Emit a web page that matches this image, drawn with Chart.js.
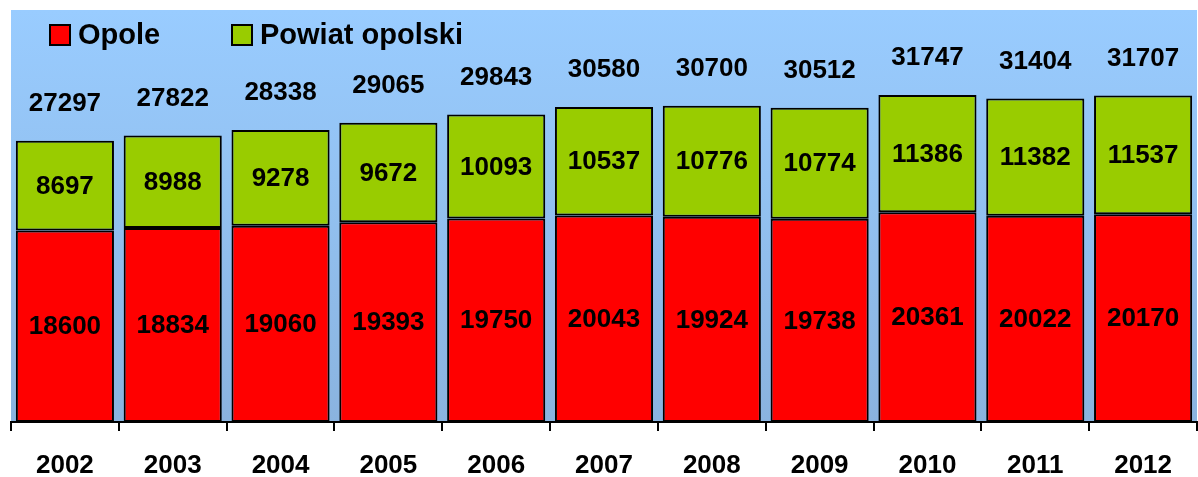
<!DOCTYPE html>
<html>
<head>
<meta charset="utf-8">
<script src="https://cdn.jsdelivr.net/npm/chart.js@4/dist/chart.umd.min.js"></script>
<style>
  html, body { margin: 0; padding: 0; background: #fff; }
  #wrap { width: 1198px; height: 477px; position: relative; }
</style>
</head>
<body>
<div id="wrap"><canvas id="chart"></canvas></div>
<script>
var years = ['2002', '2003', '2004', '2005', '2006', '2007', '2008', '2009', '2010', '2011', '2012'];
var opole = [18600, 18834, 19060, 19393, 19750, 20043, 19924, 19738, 20361, 20022, 20170];
var powiat = [8697, 8988, 9278, 9672, 10093, 10537, 10776, 10774, 11386, 11382, 11537];
var totals = [27297, 27822, 28338, 29065, 29843, 30580, 30700, 30512, 31747, 31404, 31707];

var FONT = 'Arial, "Liberation Sans", sans-serif';

// gradient behind the bars
var bgPlugin = {
    id: 'bg',
    beforeDraw: function (chart) {
        var a = chart.chartArea, c = chart.ctx;
        var g = c.createLinearGradient(0, a.top, 0, a.bottom);
        g.addColorStop(0, '#99ccff');
        g.addColorStop(1, '#8ab3df');
        c.save();
        c.fillStyle = g;
        c.fillRect(a.left, a.top, a.right - a.left, a.bottom - a.top);
        c.restore();
    }
};

// numbers in the segments and totals on top, plus the legend
var labelPlugin = {
    id: 'labels',
    afterDatasetsDraw: function (chart) {
        var c = chart.ctx;
        c.save();
        c.fillStyle = '#000';
        c.textAlign = 'center';
        c.textBaseline = 'middle';
        c.font = 'bold 26px ' + FONT;
        chart.data.datasets.forEach(function (ds, i) {
            chart.getDatasetMeta(i).data.forEach(function (bar, j) {
                c.fillText(String(ds.data[j]), bar.x, (bar.y + bar.base) / 2 + 1);
            });
        });
        var top = chart.getDatasetMeta(1).data;
        top.forEach(function (bar, j) {
            c.fillText(String(totals[j]), bar.x, bar.y - 37);
        });

        // legend
        c.font = 'bold 29px ' + FONT;
        c.textAlign = 'left';
        var items = [{x: 50}, {x: 232}];
        chart.data.datasets.forEach(function (ds, i) {
            var x = items[i].x;
            c.fillStyle = ds.backgroundColor;
            c.fillRect(x, 25, 20, 20);
            c.lineWidth = 2;
            c.strokeStyle = '#000';
            c.strokeRect(x, 25, 20, 20);
            c.fillStyle = '#000';
            c.fillText(ds.label, x + 28, 36);
        });
        c.restore();
    }
};

new Chart(document.getElementById('chart'), {
    type: 'bar',
    data: {
        labels: years,
        datasets: [{
            label: 'Opole',
            data: opole,
            backgroundColor: '#ff0000',
            borderColor: '#000',
            borderWidth: 2,
            borderSkipped: false
        }, {
            label: 'Powiat opolski',
            data: powiat,
            backgroundColor: '#99cc00',
            borderColor: '#000',
            borderWidth: 2,
            borderSkipped: false
        }]
    },
    options: {
        responsive: true,
        maintainAspectRatio: false,
        animation: false,
        devicePixelRatio: 1,
        layout: {
            padding: {left: 11, right: 1, top: 10, bottom: 0}
        },
        datasets: {
            bar: {
                categoryPercentage: 1,
                barPercentage: 0.91
            }
        },
        scales: {
            x: {
                stacked: true,
                afterFit: function (axis) { axis.height = 55; },
                border: {display: true, color: '#000', width: 2},
                grid: {
                    offset: true,
                    drawOnChartArea: false,
                    drawTicks: true,
                    tickLength: 9,
                    color: '#000',
                    lineWidth: 2
                },
                ticks: {
                    color: '#000',
                    padding: 19,
                    font: {family: FONT, size: 26, weight: 'bold'}
                }
            },
            y: {
                stacked: true,
                display: false,
                min: 0,
                max: 40000
            }
        },
        plugins: {
            legend: {display: false},
            tooltip: {enabled: false}
        }
    },
    plugins: [bgPlugin, labelPlugin]
});
</script>
</body>
</html>
